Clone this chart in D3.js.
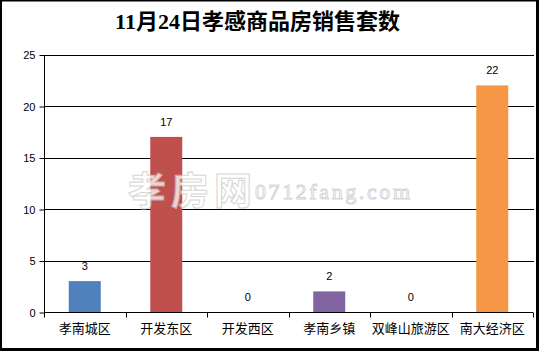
<!DOCTYPE html>
<html><head><meta charset="utf-8">
<script src="https://cdn.jsdelivr.net/npm/d3@7/dist/d3.min.js"></script>
<style>
html,body{margin:0;padding:0;background:#fff;}
svg{display:block;}
</style></head>
<body>
<svg id="chart" width="539" height="351"></svg>
<script>
const title = "11月24日孝感商品房销售套数";
const categories = ["孝南城区","开发东区","开发西区","孝南乡镇","双峰山旅游区","南大经济区"];
const values = [3,17,0,2,0,22];
const colors = ["#4f81bd","#c0504d","#9bbb59","#8064a2","#4bacc6","#f79646"];
const yTicks = [0,5,10,15,20,25];

const svg = d3.select("#chart");
const W = 539, H = 351;
svg.append("rect").attr("width",W).attr("height",H).attr("fill","#fff");

const x = d3.scaleBand().domain(categories).range([44,533]).padding(0);
const y = d3.scaleLinear().domain([0,25]).range([312,54.5]);

// gridlines
svg.append("g").selectAll("line").data(yTicks.filter(d=>d>0)).join("line")
  .attr("x1",44).attr("x2",534)
  .attr("y1",d=>Math.round(y(d))+0.5).attr("y2",d=>Math.round(y(d))+0.5)
  .attr("stroke","#000").attr("stroke-width",1);

// y axis
const yAxis = d3.axisLeft(y).tickValues(yTicks).tickSize(5).tickPadding(4);
const gy = svg.append("g").attr("transform","translate(44.5,0.5)").call(yAxis);
gy.select(".domain").attr("stroke","#000").attr("d","M0,"+y(25)+"V"+y(0));
gy.selectAll("text").attr("font-family","Liberation Sans, Arial, sans-serif").attr("font-size",11).attr("fill","#000");

// bars
const bw = 32;
svg.append("g").selectAll("rect").data(values).join("rect")
  .attr("x",(d,i)=>x(categories[i])+x.bandwidth()/2-bw/2)
  .attr("width",bw)
  .attr("y",d=>y(d))
  .attr("height",d=>y(0)-y(d))
  .attr("fill",(d,i)=>colors[i]);

// value labels
svg.append("g").selectAll("text").data(values).join("text")
  .attr("x",(d,i)=>x(categories[i])+x.bandwidth()/2)
  .attr("y",d=>y(d)-11)
  .attr("text-anchor","middle")
  .attr("font-family","Liberation Sans, Arial, sans-serif").attr("font-size",11)
  .attr("fill","#000")
  .text(d=>d);

// x axis
const xAxis = d3.axisBottom(x).tickSize(0).tickPadding(11);
const gx = svg.append("g").attr("transform","translate(0,312.5)").call(xAxis);
gx.select(".domain").attr("stroke","#000").attr("d","M44,0H533");
gx.selectAll("text").attr("font-family","Noto Sans CJK SC, sans-serif").attr("font-size",13).attr("fill","#000");
// category boundary ticks
const bounds = categories.map(c=>x(c)).concat([x.range()[1]]);
gx.append("g").selectAll("line").data(bounds).join("line")
  .attr("x1",d=>Math.round(d)+0.5).attr("x2",d=>Math.round(d)+0.5)
  .attr("y1",0).attr("y2",5).attr("stroke","#000");

// title
svg.append("text").attr("x",257.5).attr("y",29).attr("text-anchor","middle")
  .attr("font-family","Liberation Serif, Noto Sans CJK SC, serif")
  .attr("font-weight","bold").attr("font-size",22).attr("fill","#000")
  .text(title);

// watermark
const wm = svg.append("g").attr("opacity",0.75);
wm.append("text").attr("x",128).attr("y",204)
  .attr("font-family","Noto Sans CJK SC, sans-serif").attr("font-size",38)
  .attr("font-weight","bold").attr("textLength",124)
  .attr("fill","#fff").attr("stroke","#c8c8c8").attr("stroke-width",1)
  .text("孝房网");
wm.append("text").attr("x",255).attr("y",199)
  .attr("font-family","Liberation Serif, serif").attr("font-size",22)
  .attr("textLength",155)
  .attr("fill","#fff").attr("stroke","#c8c8c8").attr("stroke-width",1)
  .text("0712fang.com");

// outer border
svg.append("rect").attr("x",0).attr("y",0).attr("width",2).attr("height",H).attr("fill","#000");
svg.append("rect").attr("x",0).attr("y",0).attr("width",W).attr("height",1.5).attr("fill","#000");
svg.append("rect").attr("x",536).attr("y",0).attr("width",3).attr("height",H).attr("fill","#000");
svg.append("rect").attr("x",0).attr("y",348).attr("width",W).attr("height",3).attr("fill","#000");
</script>
</body></html>
